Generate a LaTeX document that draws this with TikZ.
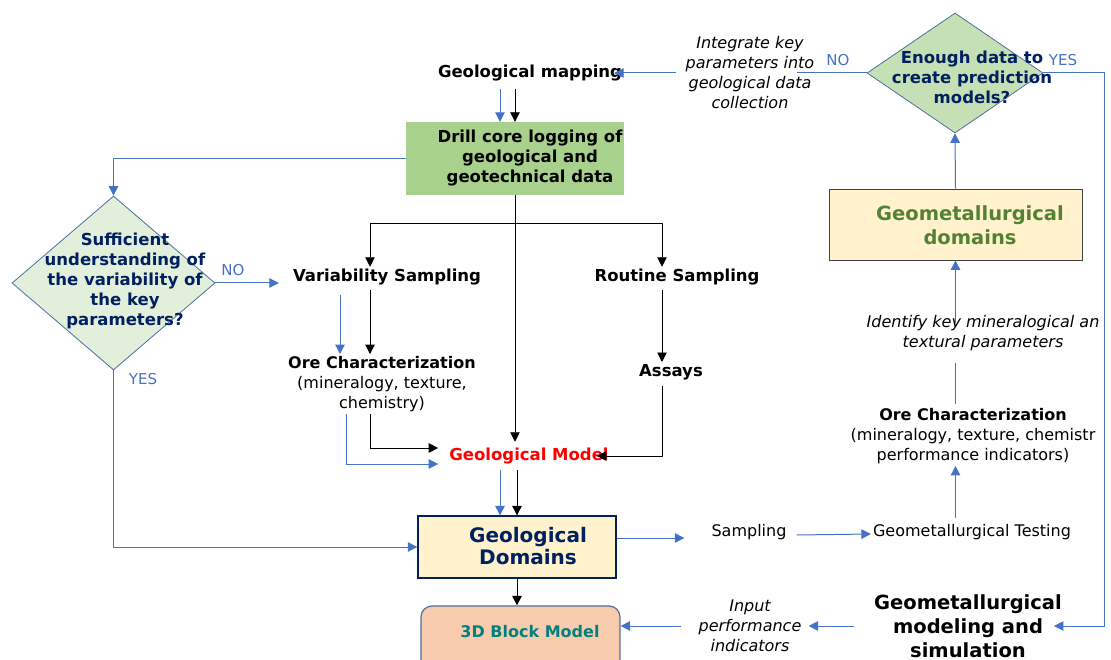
\documentclass[tikz,border=0pt]{standalone}
\usepackage{fontspec}
\setmainfont{DejaVu Sans}
\usepackage{tikz}
\usetikzlibrary{arrows.meta,shapes.geometric,calc}

\definecolor{flowblue}{HTML}{4472C4}
\definecolor{qnavy}{HTML}{002060}
\definecolor{qedge}{HTML}{4F6FA0}
\definecolor{lightq}{HTML}{E2EFDA}
\definecolor{darkq}{HTML}{C5E0B4}
\definecolor{drillgreen}{HTML}{A9D18E}
\definecolor{paleyellow}{HTML}{FFF2CC}
\definecolor{salmon}{HTML}{F8CBAD}
\definecolor{leafgreen}{HTML}{548235}
\definecolor{tealtxt}{HTML}{00807F}

\tikzset{
  txt/.style={font=\fontsize{16}{20}\selectfont, align=center, inner sep=2pt},
  btxt/.style={font=\fontsize{16.5}{20}\selectfont\bfseries, align=center, inner sep=2pt},
  itxt/.style={font=\fontsize{16}{20}\selectfont\itshape, align=center, inner sep=2pt},
  bigtxt/.style={font=\fontsize{19.5}{24}\selectfont\bfseries, align=center, inner sep=2pt},
  tip/.style={-{Triangle[length=9.5pt,width=9.5pt]}},
  barr/.style={draw=flowblue, line width=1pt, tip},
  karr/.style={draw=black, line width=0.9pt, tip},
  bline/.style={draw=flowblue, line width=1pt},
  kline/.style={draw=black, line width=0.9pt},
  question/.style={diamond, draw=qedge, line width=0.8pt, inner sep=0pt},
  yesno/.style={font=\fontsize{15}{18}\selectfont, text=flowblue, inner sep=0pt}
}

\begin{document}
\begin{tikzpicture}[x=1pt,y=-1pt]
\useasboundingbox (0,0) rectangle (1111,660);
\clip (0,0) rectangle (1111,660);

% left column
\node[btxt] (map) at (530,73) {Geological mapping};
\node[fill=drillgreen, minimum width=218pt, minimum height=73pt] (drill) at (515,158.5) {};
\node[btxt] (drilltxt) at ([xshift=15pt]drill.center) {Drill core logging of\\geological and\\geotechnical data};
\node[question, fill=lightq, minimum width=203pt, minimum height=174pt] (q1) at (113.5,283) {};
\node[btxt, text=qnavy] (q1txt) at (125,281) {Sufficient\\understanding of\\the variability of\\the key\\parameters?};
\node[btxt] (vs) at (387,277) {Variability Sampling};
\node[btxt] (rs) at (677,277) {Routine Sampling};
\node[txt] (oc) at (382,384) {\textbf{Ore Characterization}\\(mineralogy, texture,\\chemistry)};
\node[btxt] (assays) at (671,372) {Assays};
\node[btxt, text=red] (gm) at (529,456) {Geological Model};
\node[draw=qnavy, line width=1.3pt, fill=paleyellow, minimum width=198pt, minimum height=62pt] (gd) at (517,547) {};
\node[font=\fontsize{20}{22}\selectfont\bfseries, align=center, text=qnavy] (gdtxt) at (528,546) {Geological\\Domains};
\node[draw=qedge, line width=1.2pt, fill=salmon, rounded corners=11pt, minimum width=199pt, minimum height=80pt] (bm) at (520.5,646) {};
\node[font=\fontsize{16}{18}\selectfont\bfseries, text=tealtxt] (bmtxt) at (530,632) {3D Block Model};

% right column
\node[itxt] (integ) at (750,73) {Integrate key\\parameters into\\geological data\\collection};
\node[question, fill=darkq, minimum width=176pt, minimum height=120pt] (q2) at (955,73) {};
\node[btxt, text=qnavy] (q2txt) at (972,77) {Enough data to\\create prediction\\models?};
\node[draw=black!75, line width=0.9pt, fill=paleyellow, minimum width=253pt, minimum height=71pt] (gmd) at (955.5,224.5) {};
\node[bigtxt, text=leafgreen] (gmdtxt) at (970,225) {Geometallurgical\\domains};
\node[itxt] (ident) at (983,333) {Identify key mineralogical an\\textural parameters};
\node[txt] (oc2) at (973,436) {\textbf{Ore Characterization}\\(mineralogy, texture, chemistr\\performance indicators)};
\node[txt] (samp) at (749,532) {Sampling};
\node[txt] (gtest) at (972,532) {Geometallurgical Testing};
\node[bigtxt] (sim) at (968,626) {Geometallurgical\\modeling and\\simulation};
\node[itxt] (inp) at (750,626) {Input\\performance\\indicators};
\coordinate (rail) at (1104,73);
\coordinate (split) at ([yshift=-28pt]drill.south);

% connectors
\draw[barr] ([xshift=-15pt]drill.north |- map.south) ++(0,6) -- ([xshift=-15pt]drill.north);
\draw[karr] (drill.north |- map.south) ++(0,6) -- (drill.north);
\draw[barr] (drill.west) -| (q1.north);
\draw[barr, shorten >=12pt] (q1.east) -- (q1.east -| vs.west);
\draw[barr] (q1.south) |- (gd.west);
\draw[kline] (drill.south) -- (split);
\draw[karr] ([xshift=-17pt]vs.north |- split) -- ([xshift=-17pt]vs.north);
\draw[karr] ([xshift=-15pt]rs.north |- split) -- ([xshift=-15pt]rs.north);
\draw[kline] ([xshift=-17pt]vs.north |- split) -- ([xshift=-15pt]rs.north |- split);
\draw[karr, shorten >=4pt] (drill.south) -- (drill.south |- gm.north);
\draw[barr] ([xshift=-47pt]vs.south) ++(0,8) -- ([xshift=-47pt]vs.south |- oc.north);
\draw[karr] ([xshift=-17pt]vs.south) ++(0,3) -- ([xshift=-17pt]vs.south |- oc.north);
\draw[karr, shorten >=9pt] ([xshift=-12pt]oc.south) |- ([yshift=8pt]gm.west);
\draw[barr, shorten >=9pt] ([xshift=-36pt]oc.south) |- ([yshift=-8pt]gm.west);
\draw[karr] ([xshift=-15pt]rs.south) ++(0,3) -- ([xshift=-15pt]rs.south |- assays.north);
\draw[karr, shorten >=-14pt] ([xshift=-9pt]assays.south) ++(0,4) |- (gm.east);
\draw[barr] ([xshift=-17pt]gd.north |- gm.south) ++(0,4) -- ([xshift=-17pt]gd.north);
\draw[karr] (gd.north |- gm.south) ++(0,4) -- (gd.north);
\draw[karr] (gd.south) -- (gd.south |- bm.north);
\draw[barr, shorten >=25pt] ([yshift=9pt]gd.east) -- ([yshift=9pt]gd.east -| samp.west);
\draw[barr] ([xshift=8pt,yshift=-3pt]samp.east) -- ([yshift=-2pt]gtest.west);
\draw[barr] (gmd.south |- gtest.north) ++(0,-4) -- (gmd.south |- oc2.south);
\draw[bline] (gmd.south |- oc2.north) ++(0,-2) -- ([yshift=-10pt]gmd.south |- ident.south);
\draw[barr] ([yshift=-10pt]gmd.south |- ident.north) -- (gmd.south);
\draw[barr] (gmd.north) -- (q2.south);
\draw[bline] (q2.west) -- ([xshift=47pt]integ.center);
\draw[barr] ([xshift=-8pt]integ.west) -- ([xshift=-10pt]map.east);
\draw[barr] (q2.east) -- (rail) |- ([xshift=-10pt]sim.east);
\draw[barr] ([xshift=-18pt]sim.west) -- ([xshift=5pt]inp.east);
\draw[barr] ([xshift=-15pt]inp.west) -- (bm.east |- inp.west);

% labels on the questions
\node[yesno] (no1) at (233,270) {NO};
\node[yesno] (yes1) at (143,379) {YES};
\node[yesno] (no2) at (838,60) {NO};
\node[yesno] (yes2) at (1063,60) {YES};
\end{tikzpicture}
\end{document}
